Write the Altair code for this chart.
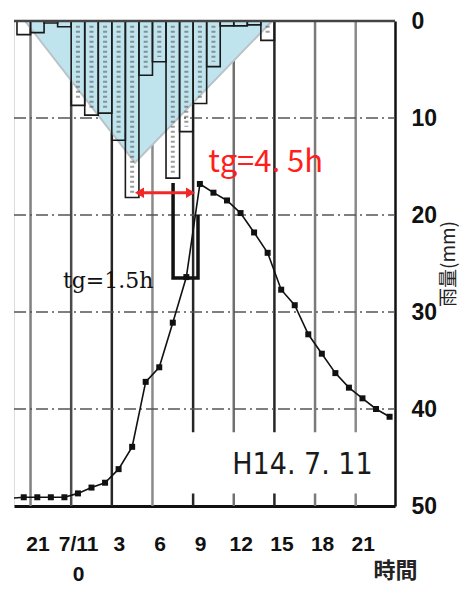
import altair as alt
import pandas as pd

# ---------------- data ----------------
# hourly rainfall (mm); bar for hour h spans h .. h+1 (hours from 7/11 0:00)
rain_hours = [-4, -3, -2, -1, 0, 1, 2, 3, 4, 5, 6, 7, 8, 9, 10, 11, 12, 13, 14]
rain_mm = [1.4, 1.2, 0.2, 0.6, 8.7, 9.7, 9.5, 12.3, 18.2, 5.6, 4.2, 16.2, 11.4,
           8.5, 4.7, 0.5, 0.5, 0.4, 2.0]

# hydrograph points (plotted against the same inverted 0-50 scale)
level_hours = [-4.5, -3.5, -2.5, -1.5, -0.5, 0.5, 1.5, 2.5, 3.5, 4.5, 5.5, 6.5,
               7.5, 8.5, 9.5, 10.5, 11.5, 12.5, 13.5, 14.5, 15.5, 16.5, 17.5,
               18.5, 19.5, 20.5, 21.5, 22.5, 23.5]
level_vals = [49.2, 49.1, 49.1, 49.1, 49.1, 48.7, 48.1, 47.6, 46.2, 43.9, 37.2,
              35.7, 31.1, 26.4, 16.8, 17.7, 18.5, 19.8, 21.8, 23.9, 27.7, 29.3,
              32.3, 34.3, 36.3, 37.8, 38.9, 40.0, 40.8]

# triangular (idealised) hyetograph
tri_hours = [-3.41, 4.71, 14.83]
tri_depth = [0.0, 14.6, 0.0]

# tg = 1.5h box outline
box_hours = [7.52, 7.52, 9.36, 9.36]
box_vals = [16.7, 26.5, 26.5, 20.0]

# tg = 4.5h arrow
arrow_from, arrow_to, arrow_y = 4.71, 9.14, 17.7

grid_hours = [-3, 0, 3, 6, 9, 12, 15, 18, 21]
grid_colors = ["#808080", "#4a4a4a", "#262626", "#8a8a8a", "#262626",
               "#707070", "#262626", "#7a7a7a", "#8a8a8a"]
hgrid_vals = [10, 20, 30, 40]
y_ticks = [0, 10, 20, 30, 40, 50]

X_DOMAIN = [-4.22, 23.9]

# ---------------- tables ----------------
rain_df = pd.DataFrame({"h": rain_hours, "h2": [h + 1 for h in rain_hours],
                        "mid": [h + 0.5 for h in rain_hours],
                        "top": [0] * len(rain_hours), "mm": rain_mm})
rain_df["in_top"] = 0.5
rain_df["in_bot"] = rain_df["mm"] - 0.5
dash_df = rain_df[rain_df["mm"] > 1.5]

level_df = pd.DataFrame({"h": level_hours, "mm": level_vals})
tri_df = pd.DataFrame({"h": tri_hours, "mm": tri_depth, "base": [0] * 3})
box_df = pd.DataFrame({"h": box_hours, "mm": box_vals, "o": list(range(4))})
vgrid_df = pd.DataFrame({"h": grid_hours, "c": grid_colors,
                         "y0": [0] * len(grid_hours), "y1": [50] * len(grid_hours)})
hgrid_df = pd.DataFrame({"mm": hgrid_vals, "a": [X_DOMAIN[0]] * 4, "b": [X_DOMAIN[1]] * 4})

xs = alt.Scale(domain=X_DOMAIN, nice=False, zero=False)
ys = alt.Scale(domain=[0, 50], reverse=True, nice=False, zero=False)

x_axis = alt.Axis(values=grid_hours, ticks=False, grid=False, title="時間",
                  labelExpr="datum.value < 0 ? '21' : (datum.value == 0 ? ['7/11', '0'] : datum.label)",
                  labelFont="Liberation Sans", labelFontSize=21, labelFontWeight="bold",
                  labelColor="#111", labelPadding=27, labelOffset=7, labelLineHeight=30,
                  labelFlush=False, labelOverlap=False,
                  domainColor="#111", domainWidth=3,
                  titleFont="Noto Sans CJK JP", titleFontSize=22, titleFontWeight="bold",
                  titleColor="#222", titleX=381, titleY=64, titleAlign="center",
                  titleBaseline="middle")
y_axis = alt.Axis(orient="right", values=y_ticks, ticks=False, grid=False,
                  title="雨量(mm)", titleAngle=-90, titleBaseline="top",
                  titleFont="Noto Sans CJK JP",
                  titleFontSize=19, titleFontWeight="normal", titleColor="#222",
                  titlePadding=3,
                  labelFont="Liberation Sans", labelFontSize=23, labelFontWeight="bold",
                  labelColor="#111", labelPadding=16, labelFlush=False,
                  labelBaseline="middle", domainColor="#111", domainWidth=2.5)


def X(field):
    return alt.X(field, type="quantitative", scale=xs, axis=x_axis)


def Y(field):
    return alt.Y(field, type="quantitative", scale=ys, axis=y_axis)


vgrid = alt.Chart(vgrid_df).mark_rule(strokeWidth=2.5).encode(
    x=X("h"), y=Y("y0"), y2="y1", color=alt.Color("c:N", scale=None))

hgrid = alt.Chart(hgrid_df).mark_rule(strokeWidth=1.5, color="#555",
                                      strokeDash=[12, 4, 2, 4]).encode(
    y=Y("mm"), x=X("a"), x2="b")

tri = alt.Chart(tri_df).mark_area(color="#bfe4ee", opacity=1).encode(
    x=X("h"), y=Y("mm"), y2="base")
tri_edge = alt.Chart(tri_df).mark_line(color="#b9c3c7", strokeWidth=2).encode(
    x=X("h"), y=Y("mm"))

whitebox = alt.Chart(pd.DataFrame({"a": [8.0], "b": [23.75], "t": [42.4], "u": [48.7]})).mark_rect(
    color="white").encode(x=X("a"), x2="b", y=Y("t"), y2="u")

bars = alt.Chart(rain_df).mark_rect(fill="white", fillOpacity=0, stroke="#1a1a1a",
                                    strokeWidth=1.6).encode(
    x=X("h"), x2="h2", y=Y("top"), y2="mm")
bar_tex = alt.Chart(dash_df).mark_rule(strokeWidth=4, color="#5a5a5a", opacity=0.6,
                                       strokeDash=[2, 3]).encode(
    x=X("mid"), y=Y("in_top"), y2="in_bot")

box = alt.Chart(box_df).mark_line(color="#111", strokeWidth=3.5).encode(
    x=X("h"), y=Y("mm"), order="o:Q")

line = alt.Chart(level_df).mark_line(
    color="#111", strokeWidth=1.6, clip=True,
    point=alt.OverlayMarkDef(shape="square", size=36, color="#111", filled=True, clip=True),
).encode(x=X("h"), y=Y("mm"))

arrow_df = pd.DataFrame({"a": [arrow_from + 0.15], "b": [arrow_to - 0.15], "y": [arrow_y]})
arrow = alt.Chart(arrow_df).mark_rule(color="#f02828", strokeWidth=3).encode(
    x=X("a"), x2="b", y=Y("y"))
heads_df = pd.DataFrame({"h": [arrow_from + 0.33, arrow_to - 0.33], "y": [arrow_y, arrow_y],
                         "s": ["triangle-left", "triangle-right"]})
heads = alt.Chart(heads_df).mark_point(filled=True, color="#f02828", size=110, opacity=1).encode(
    x=X("h"), y=Y("y"), shape=alt.Shape("s:N", scale=None))

txt_df = pd.DataFrame({"h": [10.12], "y": [14.6], "t": ["tg=4. 5h"]})
txt_red = alt.Chart(txt_df).mark_text(align="left", baseline="middle", color="#ff1e1e",
                                      font="Noto Sans CJK JP", fontSize=31).encode(
    x=X("h"), y=Y("y"), text="t:N")

txt2_df = pd.DataFrame({"h": [-0.61], "y": [26.8], "t": ["tg=1.5h"]})
txt_blk = alt.Chart(txt2_df).mark_text(align="left", baseline="middle", color="#111",
                                       font="DejaVu Serif", fontSize=22).encode(
    x=X("h"), y=Y("y"), text="t:N")

txt3_df = pd.DataFrame({"h": [11.89], "y": [45.8], "t": ["H14. 7. 11"]})
txt_date = alt.Chart(txt3_df).mark_text(align="left", baseline="middle", color="#1a1a1a",
                                        font="DejaVu Sans Condensed, Liberation Sans",
                                        fontSize=30).encode(
    x=X("h"), y=Y("y"), text="t:N")

top_df = pd.DataFrame({"y": [0], "a": [X_DOMAIN[0]], "b": [X_DOMAIN[1]]})
top_border = alt.Chart(top_df).mark_rule(color="#444", strokeWidth=2.5).encode(
    y=Y("y"), x=X("a"), x2="b")

chart = alt.layer(
    vgrid, hgrid, tri, tri_edge, whitebox, bars, bar_tex, box, line,
    arrow, heads, txt_red, txt_blk, txt_date, top_border,
).properties(
    width=381, height=485,
    autosize=alt.AutoSizeParams(type="none"),
    padding={"left": 6, "top": 13, "right": 68, "bottom": 80},
).configure_view(stroke=None).configure(background="white")

chart.save("out.html", embed_options={"renderer": "svg", "actions": False})
